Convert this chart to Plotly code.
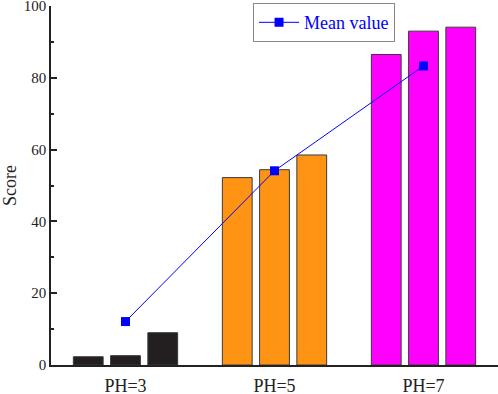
import plotly.graph_objects as go

categories = ["PH=3", "PH=5", "PH=7"]
rep1 = [2.3, 52.2, 86.5]
rep2 = [2.6, 54.4, 93.0]
rep3 = [9.0, 58.5, 94.1]
mean_value = [12.1, 54.1, 83.3]
colors = ["#231F20", "#FF9414", "#FF00FF"]
y_ticks = [0, 20, 40, 60, 80, 100]

FONT = "Liberation Serif"
fig = go.Figure()

for g, cat in enumerate(categories):
    xs = [g * 4 + k for k in range(3)]
    ys = [rep1[g], rep2[g], rep3[g]]
    fig.add_trace(go.Bar(
        x=xs, y=ys, width=0.8,
        marker=dict(color=colors[g], line=dict(color="#3A3A3A", width=1)),
        showlegend=False, hoverinfo="y",
    ))

fig.add_trace(go.Scatter(
    x=[g * 4 + 1 for g in range(len(categories))], y=mean_value,
    mode="lines+markers", name="Mean value",
    line=dict(color="#0000FF", width=1),
    marker=dict(symbol="square", size=9, color="#0000FF"),
))

fig.update_layout(
    width=498, height=394,
    margin=dict(l=51, r=0, t=6, b=29, autoexpand=False),
    plot_bgcolor="white", paper_bgcolor="white",
    font=dict(family=FONT, size=15, color="#222"),
    barmode="overlay",
    legend=dict(
        x=0.452, y=1.008, xanchor="left", yanchor="top",
        bordercolor="#888888", borderwidth=1, bgcolor="white",
        font=dict(family=FONT, size=18, color="#0000FF"),
        itemwidth=40, tracegroupgap=0,
    ),
    xaxis=dict(
        range=[-1, 11], showgrid=False, zeroline=False, automargin=False,
        showline=True, linecolor="#222", linewidth=1.5,
        tickvals=[g * 4 + 1 for g in range(len(categories))],
        ticktext=categories, ticks="",
        tickfont=dict(family=FONT, size=18, color="#222"),
        ticklabeloverflow="allow", ticklabelstandoff=4,
    ),
    yaxis=dict(
        range=[0, 100], showgrid=False, zeroline=False, automargin=False,
        showline=True, linecolor="#222", linewidth=1.5,
        tickvals=y_ticks, ticks="inside", ticklen=6, tickwidth=1.5, tickcolor="#222",
        minor=dict(dtick=10, ticks="inside", ticklen=3, tickwidth=1.5, tickcolor="#222"),
        tickfont=dict(family=FONT, size=15, color="#222"),
        ticklabeloverflow="allow",
        title=dict(text="Score", font=dict(family=FONT, size=18, color="#222"), standoff=8),
    ),
)

fig.write_html(
    "out.html",
    config={"displayModeBar": False},
    post_script="document.body.style.margin='0';document.body.style.overflow='hidden';",
)
